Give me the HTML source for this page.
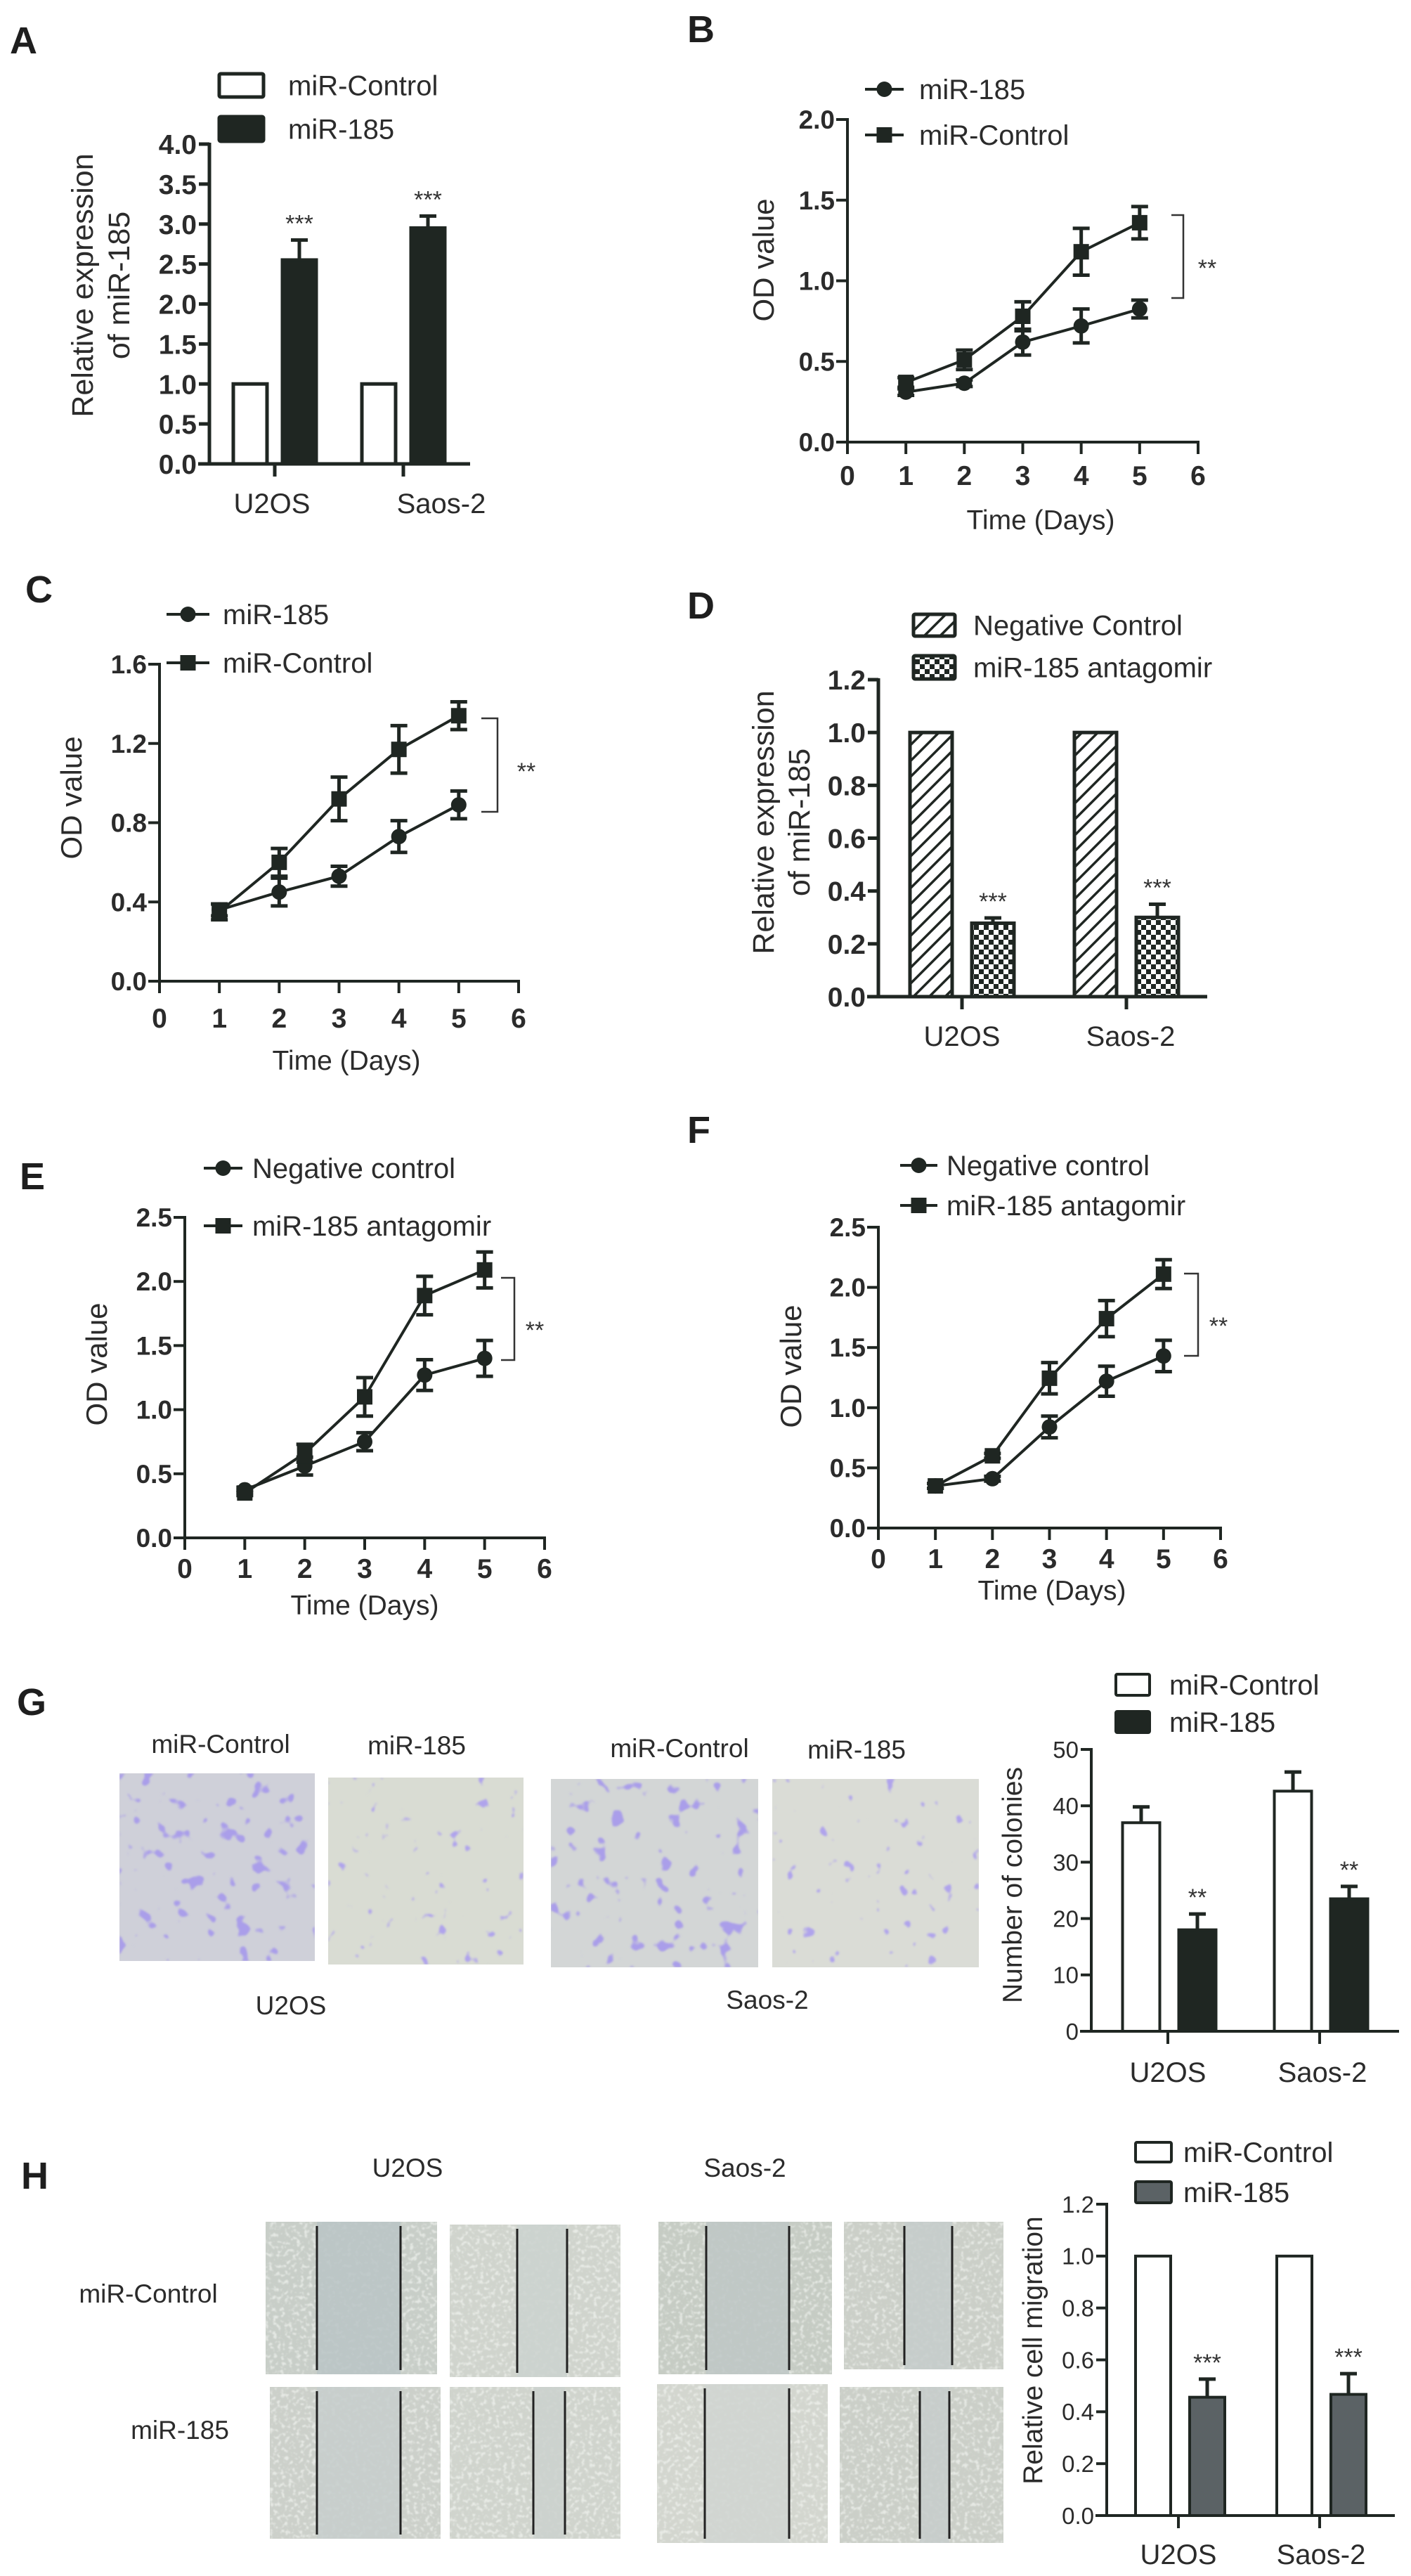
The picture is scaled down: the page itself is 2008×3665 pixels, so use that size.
<!DOCTYPE html>
<html><head><meta charset="utf-8">
<style>
html,body{margin:0;padding:0;background:#fff;}
svg{display:block;font-family:"Liberation Sans",Arial,sans-serif;}
.pl{font-size:54px;font-weight:bold;fill:#1e1e1e;}
.t{fill:#2b2b2b;}
</style></head>
<body>
<svg id="fig" width="2008" height="3665" viewBox="0 0 2008 3665">
<defs>
<pattern id="hatch" patternUnits="userSpaceOnUse" width="16" height="16" patternTransform="rotate(45)">
<rect width="16" height="16" fill="#fff"/><rect x="0" y="0" width="3.5" height="16" fill="#1f2622"/>
</pattern>
<pattern id="check" patternUnits="userSpaceOnUse" width="14" height="14">
<rect width="14" height="14" fill="#fff"/><rect width="7" height="7" fill="#1f2622"/><rect x="7" y="7" width="7" height="7" fill="#1f2622"/>
</pattern>
<filter id="colHi" x="0" y="0" width="1" height="1"><feTurbulence type="fractalNoise" baseFrequency="0.045" numOctaves="2" seed="3"/><feColorMatrix type="matrix" values="0 0 0 0 0.40 0 0 0 0 0.34 0 0 0 0 0.82 16 0 0 0 -10.4"/><feGaussianBlur stdDeviation="1.2"/></filter>
<filter id="colLo" x="0" y="0" width="1" height="1"><feTurbulence type="fractalNoise" baseFrequency="0.05" numOctaves="2" seed="9"/><feColorMatrix type="matrix" values="0 0 0 0 0.43 0 0 0 0 0.37 0 0 0 0 0.84 16 0 0 0 -11.2"/><feGaussianBlur stdDeviation="1.2"/></filter>
<filter id="speck" x="0" y="0" width="1" height="1"><feTurbulence type="fractalNoise" baseFrequency="0.18" numOctaves="2" seed="5"/><feColorMatrix type="matrix" values="0 0 0 0 0.93 0 0 0 0 0.95 0 0 0 0 0.92 5 0 0 0 -2.6"/><feGaussianBlur stdDeviation="0.8"/></filter>
</defs>

<text class="pl" x="14" y="76">A</text>
<text class="pl" x="978" y="60">B</text>
<text class="pl" x="36" y="857">C</text>
<text class="pl" x="978" y="880">D</text>
<text class="pl" x="28" y="1692">E</text>
<text class="pl" x="978" y="1626">F</text>
<text class="pl" x="24" y="2440">G</text>
<text class="pl" x="30" y="3114">H</text>

<g>
<text class="t" x="314" y="2494" font-size="37" text-anchor="middle">miR-Control</text>
<text class="t" x="593" y="2496" font-size="37" text-anchor="middle">miR-185</text>
<text class="t" x="967" y="2500" font-size="37" text-anchor="middle">miR-Control</text>
<text class="t" x="1219" y="2502" font-size="37" text-anchor="middle">miR-185</text>
<g><rect x="170" y="2523" width="278" height="267" fill="#cfd0d9"/><rect x="170" y="2523" width="278" height="267" filter="url(#colHi)"/></g>
<g><rect x="467" y="2529" width="278" height="266" fill="#d9dcd3"/><rect x="467" y="2529" width="278" height="266" filter="url(#colLo)"/></g>
<g><rect x="784" y="2531" width="295" height="268" fill="#d3d6d6"/><rect x="784" y="2531" width="295" height="268" filter="url(#colHi)"/></g>
<g><rect x="1099" y="2531" width="294" height="268" fill="#dadcd6"/><rect x="1099" y="2531" width="294" height="268" filter="url(#colLo)"/></g>
<text class="t" x="414" y="2866" font-size="37" text-anchor="middle">U2OS</text>
<text class="t" x="1092" y="2858" font-size="37" text-anchor="middle">Saos-2</text>
</g>

<g>
<text class="t" x="580" y="3097" font-size="37" text-anchor="middle">U2OS</text>
<text class="t" x="1060" y="3097" font-size="37" text-anchor="middle">Saos-2</text>
<text class="t" x="211" y="3276" font-size="37" text-anchor="middle">miR-Control</text>
<text class="t" x="256" y="3470" font-size="37" text-anchor="middle">miR-185</text>
<g id="wounds"></g>
</g>

<g id="charts"></g>
</svg>

<script>
// ---------- data ----------
const days = [1, 2, 3, 4, 5];
const xTickVals = [0, 1, 2, 3, 4, 5, 6];
const barGroups = ["U2OS", "Saos-2"];

const bMir185 = [0.31, 0.365, 0.62, 0.72, 0.825];
const bMir185Err = [0.02, 0.02, 0.08, 0.105, 0.055];
const bControl = [0.37, 0.51, 0.78, 1.18, 1.36];
const bControlErr = [0.03, 0.06, 0.09, 0.145, 0.1];
const bYTicks = [0, 0.5, 1.0, 1.5, 2.0];

const cMir185 = [0.36, 0.45, 0.53, 0.73, 0.89];
const cMir185Err = [0.03, 0.07, 0.05, 0.08, 0.07];
const cControl = [0.35, 0.60, 0.92, 1.17, 1.34];
const cControlErr = [0.04, 0.07, 0.11, 0.12, 0.07];
const cYTicks = [0, 0.4, 0.8, 1.2, 1.6];

const eNegative = [0.375, 0.56, 0.75, 1.27, 1.40];
const eNegativeErr = [0.02, 0.07, 0.07, 0.12, 0.14];
const eAntagomir = [0.35, 0.66, 1.10, 1.89, 2.09];
const eAntagomirErr = [0.02, 0.07, 0.15, 0.15, 0.14];
const eYTicks = [0, 0.5, 1.0, 1.5, 2.0, 2.5];

const fNegative = [0.35, 0.41, 0.84, 1.22, 1.43];
const fNegativeErr = [0.02, 0.02, 0.09, 0.125, 0.13];
const fAntagomir = [0.35, 0.60, 1.245, 1.74, 2.11];
const fAntagomirErr = [0.02, 0.02, 0.13, 0.15, 0.12];
const fYTicks = [0, 0.5, 1.0, 1.5, 2.0, 2.5];

const aControl = [1, 1];
const aControlErr = [0, 0];
const aMir185 = [2.55, 2.95];
const aMir185Err = [0.25, 0.15];
const aYTicks = [0, 0.5, 1.0, 1.5, 2.0, 2.5, 3.0, 3.5, 4.0];

const dNegative = [1, 1];
const dNegativeErr = [0, 0];
const dAntagomir = [0.278, 0.30];
const dAntagomirErr = [0.02, 0.05];
const dYTicks = [0, 0.2, 0.4, 0.6, 0.8, 1.0, 1.2];

const gControl = [37, 42.6];
const gControlErr = [2.8, 3.4];
const gMir185 = [18, 23.5];
const gMir185Err = [2.8, 2.2];
const gYTicks = [0, 10, 20, 30, 40, 50];

const hControl = [1, 1];
const hControlErr = [0, 0];
const hMir185 = [0.456, 0.467];
const hMir185Err = [0.07, 0.08];
const hYTicks = [0, 0.2, 0.4, 0.6, 0.8, 1.0, 1.2];

// ---------- helpers ----------
const NS = "http://www.w3.org/2000/svg";
const DARK = "#1f2622";
function mk(tag, attrs, parent) {
  const e = document.createElementNS(NS, tag);
  for (const k in attrs) e.setAttribute(k, attrs[k]);
  parent.appendChild(e);
  return e;
}
function txt(s, attrs, parent) {
  const e = mk("text", attrs, parent);
  e.textContent = s;
  return e;
}
const root = document.getElementById("charts");
function fmt(v, d) { return v.toFixed(d); }

// ---------- line charts ----------
function lineChart(c, s1, s1e, s2, s2e, yTicks) {
  const g = mk("g", {}, root);
  
  
  const X = v => c.x0 + (c.x6 - c.x0) * v / 6;
  const Y = v => c.y0 - (c.y0 - c.yT) * v / c.vT;
  const ya = mk("line", {x1: c.x0, y1: c.yT - 2, x2: c.x0, y2: c.y0 + 2, stroke: DARK, "stroke-width": 4}, g);
  
  
  const xa = mk("line", {x1: c.x0 - 2, y1: c.y0, x2: c.x6 + 2, y2: c.y0, stroke: DARK, "stroke-width": 4}, g);
  
  
  yTicks.forEach(v => {
    const tk = mk("line", {x1: c.x0 - 16, y1: Y(v), x2: c.x0, y2: Y(v), stroke: DARK, "stroke-width": 4}, g);
    
    
    const tl = txt(fmt(v, 1), {x: c.x0 - 18, y: Y(v) + 13, "font-size": 37, "font-weight": "bold", "text-anchor": "end", fill: "#2b2b2b"}, g);
    
    
  });
  xTickVals.forEach(v => {
    const tk = mk("line", {x1: X(v), y1: c.y0, x2: X(v), y2: c.y0 + 17, stroke: DARK, "stroke-width": 4}, g);
    
    
    const tl = txt(String(v), {x: X(v), y: c.xl + 14, "font-size": 39, "font-weight": "bold", "text-anchor": "middle", fill: "#2b2b2b"}, g);
    
    
  });
  const xt = txt("Time (Days)", {x: c.xtx, y: c.xty + 14, "font-size": 39, "text-anchor": "middle", fill: "#2b2b2b"}, g);
  
  
  const yt = txt("OD value", {x: 0, y: 0, "font-size": 42, "text-anchor": "middle", fill: "#2b2b2b", transform: `translate(${c.ytx + 14},${c.yty}) rotate(-90)`}, g);
  
  

  function series(vals, errs, shape, nm) {
    const sg = mk("g", {}, g);
    
    
    const pts = days.map((d, i) => X(d) + "," + Y(vals[i])).join(" ");
    const pl = mk("polyline", {points: pts, fill: "none", stroke: DARK, "stroke-width": 4}, sg);
    
    
    days.forEach((d, i) => {
      const x = X(d), yt2 = Y(vals[i] + errs[i]), yb = Y(vals[i] - errs[i]);
      const eb = mk("path", {d: `M${x},${yt2}V${yb}M${x - 12},${yt2}H${x + 12}M${x - 12},${yb}H${x + 12}`, stroke: DARK, "stroke-width": 5, fill: "none"}, sg);
      
      
      let m;
      if (shape === "circle") m = mk("circle", {cx: x, cy: Y(vals[i]), r: 11, fill: DARK}, sg);
      else m = mk("rect", {x: x - 11, y: Y(vals[i]) - 11, width: 22, height: 22, fill: DARK}, sg);
      
      
    });
  }
  series(s1, s1e, "circle", c.n1.toLowerCase().replace(/ /g, "-") + "-series");
  series(s2, s2e, "square", c.n2.toLowerCase().replace(/ /g, "-") + "-series");

  [[c.n1, c.ly1, "circle"], [c.n2, c.ly2, "square"]].forEach(([n, ly, sh]) => {
    const lg = mk("g", {}, g);
    
    
    mk("line", {x1: c.lx1, y1: ly, x2: c.lx2, y2: ly, stroke: DARK, "stroke-width": 4}, lg);
    const mid = (c.lx1 + c.lx2) / 2;
    if (sh === "circle") mk("circle", {cx: mid, cy: ly, r: 11, fill: DARK}, lg);
    else mk("rect", {x: mid - 11, y: ly - 11, width: 22, height: 22, fill: DARK}, lg);
    txt(n, {x: c.ltx, y: ly + 14, "font-size": 40, fill: "#2b2b2b"}, lg);
  });
  const br = mk("path", {d: `M${c.bx1},${c.by1}H${c.bx2}V${c.by2}H${c.bx1}`, stroke: "#333", "stroke-width": 2.5, fill: "none"}, g);
  
  
  const st = txt("**", {x: c.sx, y: c.sy + 18, "font-size": 34, "text-anchor": "middle", fill: "#333"}, g);
  
  
}

lineChart({name: "chart-b", x0: 1206, x6: 1705, y0: 629, yT: 170, vT: 2.0, xl: 676, xtx: 1481, xty: 739, ytx: 1087, yty: 370,
  lx1: 1231, lx2: 1286, ly1: 127, ly2: 192, ltx: 1308, n1: "miR-185", n2: "miR-Control",
  bx1: 1667, bx2: 1684, by1: 306, by2: 424, sx: 1718, sy: 375}, bMir185, bMir185Err, bControl, bControlErr, bYTicks);
lineChart({name: "chart-c", x0: 227, x6: 738, y0: 1396, yT: 945, vT: 1.6, xl: 1448, xtx: 493, xty: 1508, ytx: 102, yty: 1135,
  lx1: 237, lx2: 298, ly1: 874, ly2: 943, ltx: 317, n1: "miR-185", n2: "miR-Control",
  bx1: 685, bx2: 708, by1: 1022, by2: 1155, sx: 749, sy: 1091}, cMir185, cMir185Err, cControl, cControlErr, cYTicks);
lineChart({name: "chart-e", x0: 263, x6: 775, y0: 2188, yT: 1732, vT: 2.5, xl: 2231, xtx: 519, xty: 2283, ytx: 138, yty: 1941,
  lx1: 290, lx2: 345, ly1: 1662, ly2: 1744, ltx: 359, n1: "Negative control", n2: "miR-185 antagomir",
  bx1: 713, bx2: 732, by1: 1818, by2: 1935, sx: 761, sy: 1886}, eNegative, eNegativeErr, eAntagomir, eAntagomirErr, eYTicks);
lineChart({name: "chart-f", x0: 1250, x6: 1737, y0: 2174, yT: 1746, vT: 2.5, xl: 2217, xtx: 1497, xty: 2262, ytx: 1126, yty: 1944,
  lx1: 1281, lx2: 1334, ly1: 1658, ly2: 1715, ltx: 1347, n1: "Negative control", n2: "miR-185 antagomir",
  bx1: 1685, bx2: 1705, by1: 1812, by2: 1929, sx: 1734, sy: 1880}, fNegative, fNegativeErr, fAntagomir, fAntagomirErr, fYTicks);

// ---------- bar charts ----------
function barChart(c, s1, s1e, s2, s2e, yTicks) {
  const g = mk("g", {}, root);
  
  
  const Y = v => c.y0 - (c.y0 - c.yT) * v / c.vT;
  const ya = mk("line", {x1: c.ax, y1: c.yT - 2, x2: c.ax, y2: c.y0 + 2, stroke: DARK, "stroke-width": c.sw}, g);
  
  
  yTicks.forEach(v => {
    const tk = mk("line", {x1: c.ax - 15, y1: Y(v), x2: c.ax, y2: Y(v), stroke: DARK, "stroke-width": c.sw}, g);
    
    
    const tl = txt(fmt(v, c.dec), {x: c.ax - 18, y: Y(v) + c.tfs * 0.36, "font-size": c.tfs, "font-weight": c.tfw, "text-anchor": "end", fill: "#2b2b2b"}, g);
    
    
  });
  function bar(val, err, cx, fill, nm) {
    const b = mk("rect", {x: cx - c.bw / 2, y: Y(val), width: c.bw, height: c.y0 - Y(val), fill: fill, stroke: DARK, "stroke-width": c.sw}, g);
    
    
    if (err > 0) {
      const eb = mk("path", {d: `M${cx},${Y(val)}V${Y(val + err)}M${cx - 12},${Y(val + err)}H${cx + 12}`, stroke: DARK, "stroke-width": 5, fill: "none"}, g);
      
      
    }
  }
  barGroups.forEach((grp, i) => {
    const gx = c.gx[i];
    bar(s1[i], s1e[i], gx + c.o1, c.f1, "bar-control-" + grp.toLowerCase());
    bar(s2[i], s2e[i], gx + c.o2, c.f2, "bar-treatment-" + grp.toLowerCase());
    const st = txt(c.stars, {x: gx + c.o2, y: Y(s2[i] + s2e[i]) - 12, "font-size": 34, "text-anchor": "middle", fill: "#333"}, g);
    
    
    const tk = mk("line", {x1: gx, y1: c.y0, x2: gx, y2: c.y0 + 18, stroke: DARK, "stroke-width": c.sw}, g);
    
    
    const tl = txt(grp, {x: c.lx[i], y: c.xly + 14, "font-size": 40, "text-anchor": "middle", fill: "#2b2b2b"}, g);
    
    
  });
  const xa = mk("line", {x1: c.ax - 16, y1: c.y0, x2: c.xe, y2: c.y0, stroke: DARK, "stroke-width": c.sw}, g);
  
  
  c.yt.forEach((line, k) => {
    const yt = txt(line, {x: 0, y: 0, "font-size": c.yfs, "text-anchor": "middle", fill: "#2b2b2b", transform: `translate(${c.ytx[k] + 14},${c.yty}) rotate(-90)`}, g);
    
    
  });
  [[c.n1, c.f1, c.ly1], [c.n2, c.f2, c.ly2]].forEach(([n, f, ly]) => {
    const lg = mk("g", {}, g);
    
    
    mk("rect", {x: c.lbx, y: ly[0], width: c.lbw, height: ly[1] - ly[0], fill: f, stroke: DARK, "stroke-width": c.sw, rx: 2}, lg);
    txt(n, {x: c.ltx, y: (ly[0] + ly[1]) / 2 + 14, "font-size": 40, fill: "#2b2b2b"}, lg);
  });
}

barChart({name: "chart-a", ax: 298, y0: 660, yT: 205, vT: 4.0, xe: 669, gx: [391, 574], o1: -35, o2: 35, bw: 48, sw: 5,
  f1: "#fff", f2: DARK, stars: "***", dec: 1, tfs: 39, tfw: "bold", lx: [387, 628], xly: 716,
  yt: ["Relative expression", "of miR-185"], ytx: [118, 170], yty: 406, yfs: 43,
  n1: "miR-Control", n2: "miR-185", lbx: 312, lbw: 63, ly1: [105, 138], ly2: [166, 201], ltx: 410},
  aControl, aControlErr, aMir185, aMir185Err, aYTicks);
barChart({name: "chart-d", ax: 1250, y0: 1418, yT: 967, vT: 1.2, xe: 1718, gx: [1369, 1603], o1: -44, o2: 44, bw: 60, sw: 5,
  f1: "url(#hatch)", f2: "url(#check)", stars: "***", dec: 1, tfs: 39, tfw: "bold", lx: [1369, 1609], xly: 1474,
  yt: ["Relative expression", "of miR-185"], ytx: [1087, 1138], yty: 1170, yfs: 43,
  n1: "Negative Control", n2: " miR-185 antagomir", lbx: 1300, lbw: 59, ly1: [874, 905], ly2: [933, 966], ltx: 1385},
  dNegative, dNegativeErr, dAntagomir, dAntagomirErr, dYTicks);
barChart({name: "chart-g", ax: 1553, y0: 2890, yT: 2489, vT: 50, xe: 1991, gx: [1662, 1878], o1: -38, o2: 42, bw: 53, sw: 4,
  f1: "#fff", f2: DARK, stars: "**", dec: 0, tfs: 33, tfw: "normal", lx: [1662, 1882], xly: 2948,
  yt: ["Number of colonies"], ytx: [1440], yty: 2682, yfs: 39,
  n1: "miR-Control", n2: "miR-185", lbx: 1588, lbw: 48, ly1: [2382, 2412], ly2: [2435, 2465], ltx: 1664},
  gControl, gControlErr, gMir185, gMir185Err, gYTicks);
barChart({name: "chart-h", ax: 1575, y0: 3579, yT: 3136, vT: 1.2, xe: 1985, gx: [1677, 1878], o1: -36, o2: 41, bw: 50, sw: 4,
  f1: "#fff", f2: "#5b6265", stars: "***", dec: 1, tfs: 33, tfw: "normal", lx: [1677, 1880], xly: 3634,
  yt: ["Relative cell migration"], ytx: [1469], yty: 3344, yfs: 39,
  n1: "miR-Control", n2: "miR-185", lbx: 1616, lbw: 51, ly1: [3048, 3076], ly2: [3104, 3134], ltx: 1684},
  hControl, hControlErr, hMir185, hMir185Err, hYTicks);

// ---------- wound healing images (decorative photos) ----------
const wounds = document.getElementById("wounds");
const woundImgs = [
  [378, 3161, 244, 217, 451, 570, "#c8cec8", "#bac4c6"],
  [640, 3165, 243, 217, 736, 807, "#d0d4cd", "#cbd2cf"],
  [937, 3161, 247, 217, 1005, 1123, "#c6ccc4", "#bec7c6"],
  [1201, 3161, 227, 210, 1287, 1355, "#cbcfc8", "#c6cdcb"],
  [384, 3396, 243, 216, 451, 570, "#ccd0ca", "#c7cecd"],
  [640, 3396, 243, 216, 759, 804, "#d0d4cd", "#cbd1ce"],
  [935, 3392, 243, 226, 1003, 1123, "#d3d6cf", "#d0d5d1"],
  [1195, 3396, 233, 222, 1309, 1351, "#cbcfc8", "#c7cdcb"]
];
woundImgs.forEach((w, i) => {
  const g = mk("g", {}, wounds);
  
  
  mk("rect", {x: w[0], y: w[1], width: w[2], height: w[3], fill: w[6]}, g);
  mk("rect", {x: w[0], y: w[1], width: w[2], height: w[3], filter: "url(#speck)", opacity: 0.6}, g);
  mk("rect", {x: w[4], y: w[1], width: w[5] - w[4], height: w[3], fill: w[7], opacity: 0.85}, g);
  const l1 = mk("line", {x1: w[4], y1: w[1] + 6, x2: w[4], y2: w[1] + w[3] - 6, stroke: "#222", "stroke-width": 3}, g);
  
  
  const l2 = mk("line", {x1: w[5], y1: w[1] + 6, x2: w[5], y2: w[1] + w[3] - 6, stroke: "#222", "stroke-width": 3}, g);
  
  
});
</script>
</body></html>
